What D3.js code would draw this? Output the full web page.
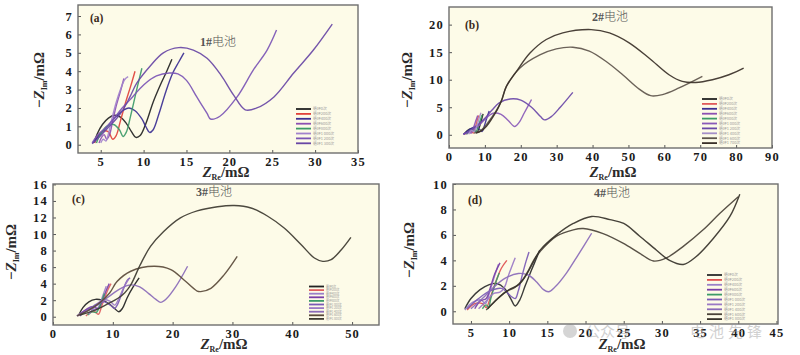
<!DOCTYPE html>
<html><head><meta charset="utf-8">
<script src="https://cdn.jsdelivr.net/npm/d3@7"></script>
<style>
html,body{margin:0;padding:0;background:#fff;}
svg{display:block;}
</style></head>
<body>
<svg id="c" width="800" height="355"></svg>
<script>
// ---------------- DATA ----------------
const legendA = ["循环0次","循环200次","循环400次","循环600次","循环800次","循环1 000次","循环1 200次","循环1 300次"];
const legendB = ["循环0次","循环200次","循环400次","循环600次","循环800次","循环1 000次","循环1 200次","循环1 400次","循环1 600次","循环1 700次"];
const legendC = ["循环0次","循环200次","循环400次","循环600次","循环800次","循环1 000次","循环1 200次","循环1 400次","循环1 600次","循环1 800次"];
const legendD = ["循环0次","循环200次","循环400次","循环600次","循环800次","循环1 000次","循环1 200次","循环1 400次","循环1 600次","循环1 800次"];

const ticksXA = [5,10,15,20,25,30,35];
const ticksYA = [0,1,2,3,4,5,6,7];
const ticksXB = [0,10,20,30,40,50,60,70,80,90];
const ticksYB = [0,5,10,15,20];
const ticksXC = [0,10,20,30,40,50];
const ticksYC = [0,2,4,6,8,10,12,14,16];
const ticksXD = [5,10,15,20,25,30,35,40,45];
const ticksYD = [0,2,4,6,8,10];

const curvesA = [
  [[4.2,0.1],[4.6,0.6],[5.2,1.1],[5.9,1.45],[6.6,1.6],[7.3,1.5],[8.0,1.15],[8.6,0.7],[9.1,0.4],[9.6,0.5],[10.3,1.2],[11.1,2.3],[12.0,3.3],[12.7,4.0],[13.3,4.65]],
  [[4.3,0.1],[4.7,0.5],[5.3,0.75],[5.9,0.7],[6.4,0.3],[6.8,0.5],[7.3,1.3],[7.9,2.3],[8.5,3.2],[9.0,4.0]],
  [[4.1,0.1],[4.8,0.5],[5.8,1.0],[6.8,1.55],[7.7,1.9],[8.3,2.0],[9.0,1.85],[9.8,1.4],[10.3,0.95],[10.7,0.67],[11.1,0.8],[11.8,1.7],[12.6,2.9],[13.4,3.9],[14.1,4.5],[14.7,5.0]],
  [[4.8,0.1],[5.1,0.4],[5.4,0.55],[5.7,0.3],[6.0,0.5],[6.4,1.3],[6.8,2.1],[7.3,2.9],[7.7,3.6]],
  [[4.5,0.1],[5.0,0.6],[5.7,1.0],[6.5,1.1],[7.2,0.8],[7.6,0.45],[8.0,0.7],[8.5,1.6],[9.0,2.6],[9.4,3.4],[9.8,4.16]],
  [[5.0,0.1],[5.3,0.3],[5.6,0.2],[5.9,0.6],[6.3,1.4],[6.8,2.3],[7.3,3.0],[7.8,3.55],[8.2,3.7]],
  [[4.0,0.1],[4.6,0.5],[5.5,0.9],[6.5,1.4],[7.5,2.0],[8.4,2.44],[10,3.25],[11.5,3.74],[13.0,3.9],[14.0,3.85],[15,3.5],[16.2,2.6],[17.4,1.7],[17.8,1.4],[18.9,1.55],[20.9,2.6],[22.8,4.07],[24.4,5.15],[25.5,6.24]],
  [[4.0,0.05],[4.8,0.4],[5.8,0.9],[6.8,1.4],[7.6,1.9],[8.4,2.6],[9.2,3.35],[10.8,4.3],[12.3,5.0],[14.1,5.28],[15.8,5.15],[17.4,4.7],[19,3.8],[20.5,2.7],[21.85,1.9],[23.2,2.0],[25.2,2.6],[27.5,3.9],[29.8,5.15],[32,6.56]]
];

const curvesB = [
  [[4.2,0.1],[5,0.7],[6,1.1],[7,0.9],[7.8,0.5],[8.4,1.3],[9,2.6],[9.5,3.8]],
  [[4.5,0.1],[5.3,0.5],[6.2,0.6],[6.8,0.3],[7.3,1.2],[7.8,2.5],[8.3,3.5]],
  [[4,0.1],[5,0.6],[6.3,1.2],[7.5,1.4],[8.5,1.0],[9.2,0.6],[9.8,1.5],[10.5,3],[11.2,4.3]],
  [[5,0.1],[5.6,0.5],[6.2,0.3],[6.8,1.2],[7.4,2.4],[8,3.5]],
  [[4.8,0.1],[5.6,0.6],[6.6,0.9],[7.5,0.6],[8.0,1.2],[8.6,2.4],[9.2,3.6]],
  [[4,0.1],[6,0.6],[8,1.5],[10,2.8],[12.3,3.9],[14.5,3.7],[16.5,2.6],[18.3,1.5],[19.5,2.2],[21,4],[23,6.4]],
  [[4,0.1],[6,0.8],[8,1.8],[10,3],[12,4.5],[14,5.8],[17,6.5],[20,6.3],[23,5],[25.5,3.3],[26.6,2.7],[28.5,3.3],[31,5],[34.5,7.7]],
  [[5.5,0.1],[6.2,0.8],[7,0.6],[7.7,1.5],[8.4,3],[8.9,4]],
  [[7,0.3],[8.5,0.6],[10,1.5],[11.5,2.8],[13,4.2],[14.5,6],[16,8.8],[19.7,12.1],[25.3,14.5],[29.9,15.6],[34.5,15.9],[39.1,15.2],[43.8,13.3],[48.4,10.9],[53,8.3],[56.2,7.1],[59.5,7.3],[64.1,8.5],[70.6,10.6]],
  [[7.5,0.3],[9,0.7],[10.5,1.6],[12,3],[13.5,4.6],[14.8,6.5],[16,8.8],[18.8,11.5],[22.5,14.8],[27.1,17.3],[31.7,18.5],[39.6,19.1],[44.7,18.5],[50.2,16.7],[55.8,13.9],[61.3,10.9],[65,9.7],[68.7,9.5],[73.4,10],[78,10.9],[82.1,12.1]]
];

const curvesC = [
  [[4.3,0.2],[5,1.1],[6,1.8],[7.1,2.1],[8.2,2.0],[9.3,1.6],[10.3,1.0],[11,0.6],[11.6,1.0],[12.4,2.3],[13.4,3.6],[14.4,4.7]],
  [[5.5,0.1],[6.2,0.5],[7,0.6],[7.6,0.3],[8.1,1.2],[8.7,2.4],[9.2,3.3],[9.7,4.0]],
  [[4,0.1],[5,0.6],[6.2,1.0],[7.2,0.8],[7.8,1.5],[8.4,2.7],[8.9,3.7]],
  [[4.2,0.1],[5.2,0.7],[6.5,1.2],[7.6,1.0],[8.2,1.8],[8.8,3],[9.4,4.0]],
  [[5.8,0.2],[6.5,0.6],[7.2,0.5],[7.6,0.9],[8.1,1.8],[8.6,2.8]],
  [[4.5,0.1],[6,0.9],[7.5,1.6],[8.6,1.8],[9.6,1.4],[10.3,1.0],[10.8,1.5],[11.6,3],[12.4,4.4],[12.9,4.7]],
  [[6,0.3],[7,1.2],[8.2,2.0],[9.5,1.9],[10.3,1.4],[11,2.2],[11.8,3.5],[12.6,4.5]],
  [[4,0.1],[6,0.8],[8,1.7],[10,2.8],[11.5,3.5],[13,3.85],[14.5,3.6],[16,2.8],[17.2,2.1],[18,1.74],[19,2.2],[20.5,3.6],[22.5,6.1]],
  [[4,0.1],[6,0.8],[8,1.8],[9.5,2.9],[10.7,4.25],[13,5.5],[16.9,6.1],[19.7,5.7],[21.9,4.45],[24.1,3.1],[24.7,3.04],[26.4,3.44],[28.6,5.06],[30.8,7.3]],
  [[4.5,0.2],[7,0.8],[9,1.5],[11,2.3],[12,2.9],[13,3.85],[14.6,6.3],[16.3,8.5],[18.5,10.3],[21.3,11.95],[24.1,12.8],[27.5,13.3],[30.3,13.45],[33.1,13.15],[35.9,12.15],[38.7,10.7],[41.5,8.7],[43.7,7.1],[45.1,6.7],[46.5,6.9],[48.2,8.1],[49.8,9.6]]
];

const curvesD = [
  [[4.2,0.2],[5,1.0],[6.2,1.7],[7.4,2.1],[8.4,2.18],[9.4,1.8],[10.2,1.0],[10.8,0.42],[11.4,0.9],[12.1,2.0],[12.9,3.2],[13.6,4.2],[14,4.8]],
  [[4.5,0.1],[5.5,0.6],[6.5,0.6],[7,0.3],[7.6,1.2],[8.3,2.4],[9,3.4],[9.7,4.0]],
  [[4.2,0.1],[5.2,0.7],[6.3,0.9],[6.9,0.6],[7.4,1.4],[8,2.6],[8.6,3.7]],
  [[5.5,0.2],[6.2,0.8],[7.0,1.0],[7.5,1.8],[8.1,2.9],[8.8,3.8]],
  [[6.5,0.2],[7,0.5],[7.3,0.3],[7.6,1.0],[8.1,2.0],[8.7,3.0]],
  [[4.5,0.2],[6,1.0],[7.5,1.6],[9,1.8],[10.2,1.2],[10.8,1.0],[11.2,1.6],[11.7,2.8],[12.2,3.9],[12.6,4.65]],
  [[6,0.2],[7,0.8],[8,1.4],[8.8,1.5],[9.4,1.9],[9.9,2.8],[10.4,3.6],[10.8,4.2]],
  [[5,0.2],[6.5,1.0],[8,1.9],[9.5,2.6],[11.2,2.97],[12.5,2.85],[13.6,2.3],[14.5,1.7],[15.15,1.53],[16,1.9],[17.5,3.0],[19,4.4],[20.8,6.13]],
  [[7,0.1],[8.2,0.8],[9.5,1.5],[10.8,1.9],[11.8,2.5],[12.6,3.3],[13.3,4.1],[14.06,4.7],[16.2,5.9],[18.4,6.4],[19.7,6.5],[22.3,6.1],[24.9,5.35],[27.1,4.55],[28.9,3.95],[30.6,4.2],[32.8,5.1],[35.4,6.4],[37.6,7.7],[40,9.0]],
  [[7.2,0.2],[8.5,1.0],[10,1.7],[11.3,2.1],[12.3,2.9],[13.2,3.9],[14.06,4.8],[16.2,6.0],[18.4,6.9],[20.8,7.45],[23.2,7.2],[25,6.9],[27.1,5.9],[29.3,4.8],[31,4.0],[32.8,3.68],[34.5,4.3],[36.7,5.7],[38.9,7.45],[40.2,9.2]]
];

// ---------------- STYLE / LAYOUT ----------------
const colorsA = ["#222","#e0413a","#3b2f93","#8c4fb2","#3c9a68","#a283cc","#7b55b5","#6846a5"];
const colorsB = ["#222","#e05a5a","#3b2f93","#8c4fb2","#3c9a68","#8a5ab8","#6a48a8","#a58fc8","#5e554c","#3a3028"];
const colorsC = ["#222","#e06060","#9a80c8","#7a3fa8","#3c9a68","#7a5ab5","#9a78c5","#8a6ab8","#5a4a3a","#3d3a30"];
const colorsD = ["#2a2a2a","#e05050","#9a80c8","#7a3fa8","#3c9a68","#7a5ab5","#9a78c5","#8a6ab8","#4a4238","#36322a"];

const panels = [
  {id:"a", L:78, R:358, T:5, B:153, xd:[2.35,35], yd:[-0.45,7.6], tx:ticksXA, ty:ticksYA, curves:curvesA, colors:colorsA, legend:legendA,
   tag:[90,22], name:"1#电池", nameXY:[218,46], ylab:[44,80], xlab:[226,177], leg:[296,109,4.9]},
  {id:"b", L:449, R:772, T:7, B:148, xd:[0,90], yd:[-2.4,23.2], tx:ticksXB, ty:ticksYB, curves:curvesB, colors:colorsB, legend:legendB,
   tag:[465,29], name:"2#电池", nameXY:[610,21], ylab:[412,80], xlab:[613,177], leg:[702,99,4.9]},
  {id:"c", L:53, R:379, T:184, B:325, xd:[0,54.5], yd:[-1.0,16.05], tx:ticksXC, ty:ticksYC, curves:curvesC, colors:colorsC, legend:legendC,
   tag:[72,203], name:"3#电池", nameXY:[214,196], ylab:[16,252], xlab:[224,349], leg:[309,286.5,3.6]},
  {id:"d", L:453, R:778, T:184, B:324, xd:[2.65,45.2], yd:[-1.0,10.0], tx:ticksXD, ty:ticksYD, curves:curvesD, colors:colorsD, legend:legendD,
   tag:[468,204], name:"4#电池", nameXY:[612,197], ylab:[414,250], xlab:[622,349], leg:[707,275,4.9]}
];

const svg = d3.select("#c");
const serif = "'Liberation Serif','DejaVu Serif',serif";
const cjk = "'Noto Sans CJK SC','Noto Sans',sans-serif";

panels.forEach((p,pi) => {
  const x = d3.scaleLinear().domain(p.xd).range([p.L,p.R]);
  const y = d3.scaleLinear().domain(p.yd).range([p.B,p.T]);
  const g = svg.append("g");

  g.append("rect").attr("x",p.L).attr("y",p.T).attr("width",p.R-p.L).attr("height",p.B-p.T)
    .attr("fill","#fdfbe8");

  const clipId = "clip"+p.id;
  svg.append("clipPath").attr("id",clipId).append("rect")
    .attr("x",p.L).attr("y",p.T).attr("width",p.R-p.L).attr("height",p.B-p.T);

  const line = d3.line().x(d=>x(d[0])).y(d=>y(d[1])).curve(d3.curveCatmullRom.alpha(0.5));
  const cg = g.append("g").attr("clip-path","url(#"+clipId+")");
  p.curves.forEach((c,i) => {
    cg.append("path").attr("d",line(c)).attr("fill","none")
      .attr("stroke",p.colors[i]).attr("stroke-width",1.4).attr("stroke-linejoin","round").attr("opacity",0.92);
  });

  // axes
  const ax = d3.axisBottom(x).tickValues(p.tx).tickSize(-3).tickPadding(4).tickFormat(d3.format("d"));
  const ay = d3.axisLeft(y).tickValues(p.ty).tickSize(-3).tickPadding(5).tickFormat(d3.format("d"));
  const gx = g.append("g").attr("transform",`translate(0,${p.B})`).call(ax);
  const gy = g.append("g").attr("transform",`translate(${p.L},0)`).call(ay);
  [gx,gy].forEach(a => {
    a.select(".domain").remove();
    a.selectAll("line").attr("stroke","#555");
    a.selectAll("text").attr("font-family",serif).attr("font-weight","bold")
      .attr("font-size",12.5).attr("fill","#1a1a1a").attr("letter-spacing",1.2);
  });

  g.append("rect").attr("x",p.L).attr("y",p.T).attr("width",p.R-p.L).attr("height",p.B-p.T)
    .attr("fill","none").attr("stroke","#6e6e6e").attr("stroke-width",1.4);

  // tag & name
  g.append("text").attr("x",p.tag[0]).attr("y",p.tag[1]).text("("+p.id+")")
    .attr("font-family",serif).attr("font-weight","bold").attr("font-size",11.5).attr("fill","#3a2a1a");
  const nt = g.append("text").attr("x",p.nameXY[0]).attr("y",p.nameXY[1]).attr("text-anchor","middle")
    .attr("fill","#555").attr("font-size",12);
  nt.append("tspan").attr("font-family",serif).attr("font-weight","bold").text(p.name.slice(0,2));
  nt.append("tspan").attr("font-family",cjk).attr("font-weight","300").text(p.name.slice(2));

  // axis titles
  const xt = g.append("text").attr("x",p.xlab[0]).attr("y",p.xlab[1]).attr("text-anchor","middle")
    .attr("font-family",serif).attr("font-weight","bold").attr("font-size",15).attr("fill","#2a2a2a");
  xt.append("tspan").attr("font-style","italic").text("Z");
  xt.append("tspan").attr("font-size",8).attr("dy",3).text("Re");
  xt.append("tspan").attr("dy",-3).text("/mΩ");

  const yt = g.append("text").attr("transform",`translate(${p.ylab[0]},${p.ylab[1]}) rotate(-90)`)
    .attr("text-anchor","middle").attr("font-family",serif).attr("font-weight","bold").attr("font-size",15).attr("fill","#2a2a2a");
  yt.append("tspan").text("−");
  yt.append("tspan").attr("font-style","italic").text("Z");
  yt.append("tspan").attr("font-size",8).attr("dy",3).text("Im");
  yt.append("tspan").attr("dy",-3).text("/mΩ");

  // legend
  const lg = g.append("g");
  const fs = p.leg[2] * 0.8;
  p.legend.forEach((t,i) => {
    const yy = p.leg[1] + i*p.leg[2];
    lg.append("line").attr("x1",p.leg[0]).attr("x2",p.leg[0]+15).attr("y1",yy).attr("y2",yy)
      .attr("stroke",p.colors[i]).attr("stroke-width",1.8);
    lg.append("text").attr("x",p.leg[0]+17).attr("y",yy+fs*0.35).text(t)
      .attr("font-family",cjk).attr("font-size",fs).attr("fill","#9a9a9a");
  });
});

// faint watermark
svg.append("text").attr("x",585).attr("y",337).text("公众号")
  .attr("font-family",cjk).attr("font-size",15).attr("fill","#999").attr("opacity",0.45);
svg.append("text").attr("x",690).attr("y",337).text("电池先锋")
  .attr("font-family",cjk).attr("font-size",15).attr("fill","#999").attr("opacity",0.45).attr("letter-spacing",4);
svg.append("circle").attr("cx",570).attr("cy",331).attr("r",7).attr("fill","#888").attr("opacity",0.35);
</script>
</body></html>
